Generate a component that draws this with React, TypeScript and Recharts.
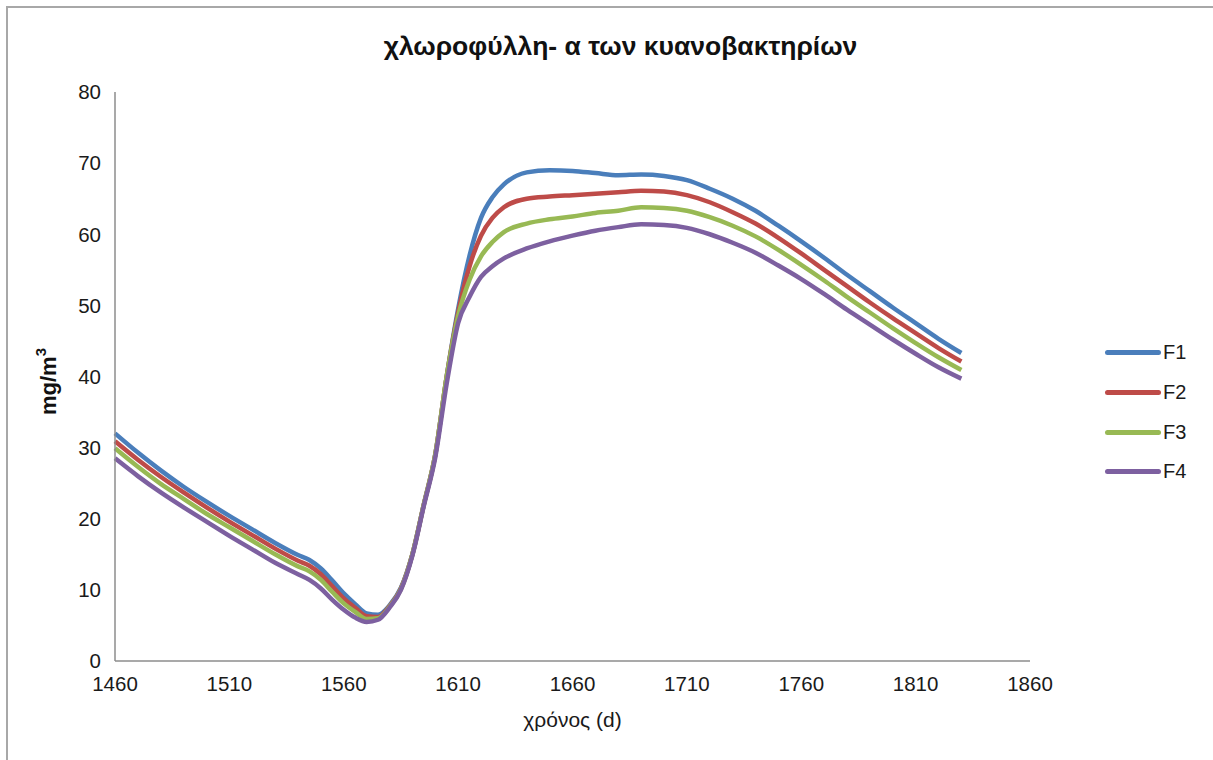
import React from "react";
import { LineChart, Line, XAxis, YAxis, Label } from "recharts";

const days = [
  1460, 1470, 1480, 1490, 1500, 1510, 1520, 1530, 1540, 1545, 1550, 1555, 1560,
  1565, 1570, 1575, 1580, 1585, 1590, 1595, 1600, 1605, 1610, 1615, 1620, 1625,
  1630, 1640, 1650, 1660, 1670, 1680, 1690, 1700, 1710, 1720, 1730, 1740, 1750,
  1760, 1770, 1780, 1790, 1800, 1810, 1820, 1830,
];

const f1 = [
  32.0, 29.3, 26.8, 24.5, 22.4, 20.4, 18.5, 16.6, 14.9, 14.2, 13.0, 11.3, 9.5,
  8.0, 6.7, 6.5, 7.8, 10.3, 15.0, 22.0, 29.0, 40.0, 49.5, 57.0, 62.3, 65.2,
  67.0, 68.7, 69.0, 68.9, 68.6, 68.3, 68.4, 68.2, 67.6, 66.4, 65.0, 63.3, 61.2,
  59.0, 56.7, 54.3, 52.0, 49.7, 47.5, 45.3, 43.3,
];
const f2 = [
  30.9, 28.3, 25.9, 23.7, 21.6, 19.6, 17.7, 15.8, 14.1, 13.4, 12.2, 10.5, 8.8,
  7.5, 6.3, 6.2, 7.7, 10.2, 15.0, 22.0, 29.0, 40.0, 49.0, 55.5, 59.8, 62.3,
  63.8, 65.0, 65.3, 65.5, 65.7, 65.9, 66.1, 66.0, 65.5, 64.5, 63.1, 61.5, 59.5,
  57.3, 55.0, 52.7, 50.4, 48.2, 46.1, 44.0, 42.1,
];
const f3 = [
  29.9, 27.3, 24.9, 22.8, 20.7, 18.8, 16.9, 15.0, 13.3, 12.6, 11.4, 9.7, 8.1,
  6.9, 5.9, 6.0, 7.6, 10.1, 15.0, 22.0, 29.0, 40.0, 48.5, 53.6, 56.9, 58.9,
  60.3, 61.5, 62.1, 62.5, 63.0, 63.3, 63.8, 63.7, 63.3, 62.4, 61.2, 59.7, 57.8,
  55.7, 53.5, 51.2, 49.0, 46.8, 44.7, 42.7, 40.9,
];
const f4 = [
  28.5, 26.0, 23.7, 21.6, 19.6, 17.6, 15.7, 13.8, 12.2, 11.4, 10.2, 8.6, 7.2,
  6.1, 5.5, 5.8, 7.5, 10.0, 14.8, 21.8, 28.6, 39.0, 47.5, 51.2, 54.0, 55.5,
  56.6, 58.0, 59.0, 59.8, 60.5, 61.0, 61.4, 61.3, 60.9, 60.0, 58.8, 57.4, 55.6,
  53.7, 51.6, 49.4, 47.3, 45.2, 43.2, 41.3, 39.7,
];

const xTicks = [1460, 1510, 1560, 1610, 1660, 1710, 1760, 1810, 1860];
const yTicks = [0, 10, 20, 30, 40, 50, 60, 70, 80];

const series = [
  { key: "F1", values: f1, color: "#4A7EBB" },
  { key: "F2", values: f2, color: "#BE4B48" },
  { key: "F3", values: f3, color: "#98B954" },
  { key: "F4", values: f4, color: "#7D60A0" },
];

const data = days.map((d, i) => ({
  day: d,
  F1: f1[i],
  F2: f2[i],
  F3: f3[i],
  F4: f4[i],
}));

const font = "'Liberation Sans', Arial, sans-serif";

// rotated y-axis title with a real superscript
function YTitle(props: any) {
  const vb = props.viewBox || {};
  const cx = 48;
  const cy = (vb.y || 0) + (vb.height || 0) / 2 + 5;
  return (
    <text
      x={cx}
      y={cy}
      transform={`rotate(-90 ${cx} ${cy})`}
      textAnchor="middle"
      dominantBaseline="central"
      fontFamily={font}
      fontSize={22}
      fontWeight="bold"
      fill="#111"
    >
      mg/m
      <tspan fontSize={15} dy={-8}>
        3
      </tspan>
    </text>
  );
}

export default function App() {
  const tick = { fill: "#1a1a1a", fontSize: 20.5, fontFamily: font };

  return (
    <div
      style={{
        position: "absolute",
        left: 0,
        top: 0,
        width: 1213,
        height: 760,
        background: "#fff",
        overflow: "hidden",
        fontFamily: font,
      }}
    >
      {/* frame */}
      <div
        style={{
          position: "absolute",
          left: 6,
          top: 6,
          width: 1220,
          height: 770,
          border: "2px solid #a8a8a8",
        }}
      />

      <div
        style={{
          position: "absolute",
          left: 14,
          top: 31,
          width: 1213,
          textAlign: "center",
          fontSize: 26.5,
          fontWeight: "bold",
          color: "#111",
        }}
      >
        χλωροφύλλη- α των κυανοβακτηρίων
      </div>

      <div style={{ position: "absolute", left: 0, top: 0 }}>
        <LineChart
          width={1213}
          height={760}
          data={data}
          margin={{ top: 92, right: 183, bottom: 69, left: 55 }}
        >
          <XAxis
            dataKey="day"
            type="number"
            domain={[1460, 1860]}
            ticks={xTicks}
            tick={tick}
            tickLine={false}
            tickSize={0}
            tickMargin={15}
            height={30}
            axisLine={{ stroke: "#8c8c8c", strokeWidth: 1.5 }}
          >
            <Label
              value="χρόνος (d)"
              position="insideBottom"
              offset={-36}
              style={{ fill: "#1a1a1a", fontSize: 21, fontFamily: font }}
            />
          </XAxis>
          <YAxis
            type="number"
            domain={[0, 80]}
            ticks={yTicks}
            tick={tick}
            tickLine={false}
            tickSize={0}
            tickMargin={14}
            width={60}
            axisLine={{ stroke: "#8c8c8c", strokeWidth: 1.5 }}
            label={<YTitle />}
          />
          {series.map((s) => (
            <Line
              key={s.key}
              type="monotone"
              dataKey={s.key}
              stroke={s.color}
              strokeWidth={4.5}
              dot={false}
              isAnimationActive={false}
            />
          ))}
        </LineChart>
      </div>

      {/* legend */}
      <div style={{ position: "absolute", left: 1105, top: 333 }}>
        {series.map((s) => (
          <div
            key={s.key}
            style={{
              display: "flex",
              alignItems: "center",
              height: 39.7,
              fontSize: 20,
              color: "#1a1a1a",
            }}
          >
            <span
              style={{
                display: "inline-block",
                width: 56,
                height: 5,
                borderRadius: 3,
                background: s.color,
                marginRight: 2,
              }}
            />
            {s.key}
          </div>
        ))}
      </div>
    </div>
  );
}
